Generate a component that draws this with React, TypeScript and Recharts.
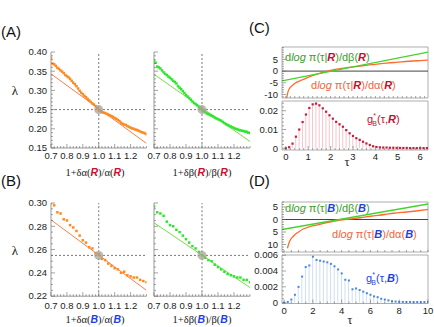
import React from 'react';
import {
  ComposedChart,
  Scatter,
  Line,
  Bar,
  XAxis,
  YAxis,
  ReferenceLine,
  ReferenceDot,
  ReferenceArea
} from 'recharts';

// ---- panels A / B: lambda vs relative change of alpha / beta ----
const SWEEP_FINE = [
  0.70, 0.71, 0.72, 0.73, 0.74, 0.75, 0.76, 0.77, 0.78, 0.79,
  0.80, 0.81, 0.82, 0.83, 0.84, 0.85, 0.86, 0.87, 0.88, 0.89,
  0.90, 0.91, 0.92, 0.93, 0.94, 0.95, 0.96, 0.97, 0.98, 0.99,
  1.00, 1.01, 1.02, 1.03, 1.04, 1.05, 1.06, 1.07, 1.08, 1.09,
  1.10, 1.11, 1.12, 1.13, 1.14, 1.15, 1.16, 1.17, 1.18, 1.19,
  1.20, 1.21, 1.22, 1.23, 1.24, 1.25, 1.26, 1.27, 1.28, 1.29, 1.30
];
const LAMBDA_ALPHA_R = [
  0.384, 0.370, 0.368, 0.364, 0.359, 0.356, 0.352, 0.349, 0.345, 0.340,
  0.337, 0.334, 0.330, 0.325, 0.320, 0.316, 0.311, 0.305, 0.299, 0.294,
  0.290, 0.286, 0.282, 0.278, 0.274, 0.270, 0.266, 0.263, 0.259, 0.254,
  0.250, 0.246, 0.243, 0.242, 0.241, 0.239, 0.237, 0.235, 0.233, 0.231,
  0.228, 0.226, 0.223, 0.220, 0.216, 0.213, 0.211, 0.210, 0.207, 0.205,
  0.203, 0.201, 0.200, 0.198, 0.197, 0.195, 0.193, 0.191, 0.190, 0.188, 0.186
];
const LAMBDA_BETA_R = [
  0.376, 0.372, 0.362, 0.360, 0.357, 0.352, 0.347, 0.343, 0.340, 0.336,
  0.333, 0.329, 0.325, 0.322, 0.318, 0.311, 0.307, 0.303, 0.298, 0.293,
  0.288, 0.284, 0.280, 0.276, 0.271, 0.267, 0.264, 0.261, 0.257, 0.253,
  0.250, 0.246, 0.243, 0.240, 0.238, 0.236, 0.234, 0.232, 0.229, 0.227,
  0.225, 0.223, 0.221, 0.218, 0.215, 0.212, 0.210, 0.208, 0.206, 0.204,
  0.202, 0.200, 0.199, 0.197, 0.196, 0.195, 0.194, 0.193, 0.192, 0.190, 0.189
];
const SWEEP_COARSE = [
  0.70, 0.72, 0.74, 0.76, 0.78, 0.80, 0.82, 0.84, 0.86, 0.88,
  0.90, 0.92, 0.94, 0.96, 0.98, 1.00, 1.02, 1.04, 1.06, 1.08,
  1.10, 1.12, 1.14, 1.16, 1.18, 1.20, 1.22, 1.24, 1.26, 1.28, 1.30
];
const LAMBDA_ALPHA_B = [
  0.300, 0.298, 0.292, 0.291, 0.286, 0.285, 0.281, 0.279, 0.276, 0.272,
  0.268, 0.266, 0.262, 0.261, 0.257, 0.256, 0.252, 0.251, 0.248, 0.246,
  0.244, 0.243, 0.240, 0.241, 0.238, 0.237, 0.236, 0.236, 0.234, 0.233, 0.232
];
const LAMBDA_BETA_B = [
  0.297, 0.292, 0.291, 0.289, 0.284, 0.281, 0.280, 0.277, 0.275, 0.272,
  0.269, 0.266, 0.263, 0.261, 0.258, 0.255, 0.253, 0.251, 0.250, 0.247,
  0.245, 0.243, 0.241, 0.239, 0.238, 0.237, 0.236, 0.236, 0.234, 0.234, 0.232
];
// linear fits through the reference point
const FIT_X = [0.7, 1.3];
const FIT_ALPHA_R = [0.343, 0.162];
const FIT_BETA_R = [0.342, 0.167];
const FIT_ALPHA_B = [0.2855, 0.225];
const FIT_BETA_B = [0.283, 0.2274];
const LAMBDA_REF_R = 0.25;
const LAMBDA_REF_B = 0.255;
const SWEEP_TICKS = [0.7, 0.8, 0.9, 1.0, 1.1, 1.2];

// ---- panels C / D: score functions ----
const BETA_TAU_C = [-0.17, 6.35];
const DLOG_BETA_R = [-4.2, 8.1];
const ALPHA_TAU_C = [0.03, 0.1, 0.2, 0.35, 0.5, 0.7, 0.9, 1.1, 1.35, 1.6, 1.85, 2.2, 2.6, 3.0, 3.5, 4.0, 4.5, 5.0, 5.5, 6.0, 6.35];
const DLOG_ALPHA_R = [-12, -8.8, -7.0, -5.6, -4.7, -3.9, -3.1, -2.3, -1.4, -0.7, 0.0, 0.7, 1.3, 1.8, 2.4, 2.9, 3.4, 3.8, 4.2, 4.5, 4.7];

const BETA_TAU_D = [-0.15, 10];
const DLOG_BETA_B = [-4.0, 6.2];
const ALPHA_TAU_D = [0.23, 0.3, 0.4, 0.6, 0.8, 1.0, 1.3, 1.7, 2.1, 2.5, 3.0, 3.5, 3.9, 4.5, 5.3, 6.0, 7.0, 7.6, 8.5, 9.3, 10];
const DLOG_ALPHA_B = [-11.5, -10.0, -8.5, -6.9, -5.8, -5.0, -3.9, -3.0, -2.4, -1.9, -1.2, -0.6, -0.2, 0.2, 0.7, 1.3, 2.0, 2.5, 3.0, 3.5, 4.0];

// ---- g*_B(tau) ----
const TAU_C = [
  0, 0.15, 0.3, 0.45, 0.6, 0.75, 0.9, 1.05, 1.2, 1.35,
  1.5, 1.65, 1.8, 1.95, 2.1, 2.25, 2.4, 2.55, 2.7, 2.85,
  3.0, 3.15, 3.3, 3.45, 3.6, 3.75, 3.9, 4.05, 4.2, 4.35,
  4.5, 4.65, 4.8, 4.95, 5.1, 5.25, 5.4, 5.55, 5.7, 5.85,
  6.0, 6.15, 6.3
];
const G_R = [
  0.0000, 0.0006, 0.0025, 0.0062, 0.0100, 0.0140, 0.0180, 0.0215, 0.0234, 0.0238,
  0.0229, 0.0213, 0.0195, 0.0176, 0.0158, 0.0141, 0.0128, 0.0115, 0.0097, 0.0080,
  0.0066, 0.0054, 0.0045, 0.0035, 0.0026, 0.0018, 0.0011, 0.0007, 0.0005, 0.0004,
  0.0004, 0.0003, 0.0003, 0.0002, 0.0002, 0.0002, 0.0002, 0.0001, 0.0001, 0.0001,
  0.0001, 0.0001, 0.0001
];
const TAU_D = [
  0, 0.25, 0.5, 0.75, 1.0, 1.25, 1.5, 1.75, 2.0, 2.25,
  2.5, 2.75, 3.0, 3.25, 3.5, 3.75, 4.0, 4.25, 4.5, 4.75,
  5.0, 5.25, 5.5, 5.75, 6.0, 6.25, 6.5, 6.75, 7.0, 7.25,
  7.5, 7.75, 8.0, 8.25, 8.5, 8.75, 9.0, 9.25, 9.5, 9.75, 10
];
const G_B = [
  0, 0.0001, 0.0004, 0.0010, 0.0020, 0.0033, 0.0045, 0.0047, 0.0058, 0.0054,
  0.0053, 0.0052, 0.0051, 0.0049, 0.0046, 0.0042, 0.0037, 0.0029, 0.0028, 0.0017,
  0.0018, 0.0016, 0.0014, 0.0012, 0.0010, 0.0008, 0.0007, 0.0005, 0.0004, 0.0003,
  0.0002, 0.00015, 0.0001, 0.0001, 0.0001, 0.0001, 0.00008, 0.00008, 0.00008, 0.00008, 0.00008
];

const SANS = '"Liberation Sans", Arial, sans-serif';
const SERIF = '"Liberation Serif", "Times New Roman", serif';
const RED = '#c8102e';
const BLUE = '#1f3fe6';
const GREEN_TXT = '#3a9e2a';
const ORANGE_TXT = '#f2643a';

const steps = (a: number, b: number, s: number) => {
  const out: number[] = [];
  for (let v = a; v <= b + s / 1000; v += s) out.push(Math.round(v * 1e6) / 1e6);
  return out;
};

const zip = (xs: number[], ys: number[], kx = 'x', ky = 'y') =>
  xs.map((x, i) => ({ [kx]: x, [ky]: ys[i] }));

// inward Mathematica-style ticks, label only on majors
const makeTick = (side: 'left' | 'bottom', major: number[], fmt?: (v: number) => string, gap = 10) => (p: any) => {
  const v = Number(p.payload.value);
  const isMaj = major.some((m) => Math.abs(m - v) < 1e-9);
  const l = isMaj ? 4 : 2;
  if (side === 'left') {
    const ax = p.x + 3;
    return (
      <g>
        <line x1={ax} x2={ax + l} y1={p.y} y2={p.y} stroke="#666" strokeWidth={0.6} />
        {isMaj && fmt ? (
          <text x={p.x - 1} y={p.y + 3.3} textAnchor="end" fontFamily={SANS} fontSize={9.5} fill="#222">{fmt(v)}</text>
        ) : null}
      </g>
    );
  }
  const ay = p.y - 3;
  return (
    <g>
      <line x1={p.x} x2={p.x} y1={ay} y2={ay - l} stroke="#666" strokeWidth={0.6} />
      {isMaj && fmt ? (
        <text x={p.x} y={ay + gap} textAnchor="middle" fontFamily={SANS} fontSize={9.5} fill="#222">{fmt(v)}</text>
      ) : null}
    </g>
  );
};

const square = (color: string, s: number) => (p: any) =>
  p.cx == null ? <g /> : <rect x={p.cx - s / 2} y={p.cy - s / 2} width={s} height={s} fill={color} />;

type Box = [number, number, number, number];

function SweepPanel(props: {
  box: Box; xs: number[]; ys: number[]; fit: number[]; dotColor: string; fitColor: string;
  yDomain: [number, number]; yMajor: number[]; yStep: number; labels: boolean; refY: number; gap: number;
}) {
  const { box, xs, ys, fit, dotColor, fitColor, yDomain, yMajor, yStep, labels, refY, gap } = props;
  const yw = 30, xh = 16, mt = 8, mr = 6;
  return (
    <div style={{ position: 'absolute', left: box[0] - yw, top: box[1] - mt }}>
      <ComposedChart
        width={yw + box[2] - box[0] + mr}
        height={mt + box[3] - box[1] + xh}
        margin={{ top: mt, right: mr, left: 0, bottom: 0 }}
      >
        <XAxis type="number" dataKey="x" domain={[0.7, 1.3]} ticks={steps(0.7, 1.3, 0.02)} interval={0}
          height={xh} tickSize={0} tickMargin={3} tick={makeTick('bottom', SWEEP_TICKS, (v) => v.toFixed(1), gap)}
          axisLine={{ stroke: '#999' }} allowDataOverflow />
        <YAxis type="number" dataKey="y" domain={yDomain} ticks={steps(yDomain[0], yDomain[1], yStep)} interval={0}
          width={yw} tickSize={0} tickMargin={3} tick={makeTick('left', yMajor, labels ? (v) => v.toFixed(2) : undefined)}
          axisLine={{ stroke: '#999' }} allowDataOverflow />
        <ReferenceLine x={1} stroke="#555" strokeDasharray="2 2" strokeWidth={0.8} />
        <ReferenceLine y={refY} stroke="#555" strokeDasharray="2 2" strokeWidth={0.8} />
        <Line data={zip(FIT_X, fit)} dataKey="y" type="linear" stroke={fitColor} strokeWidth={1} dot={false} isAnimationActive={false} />
        <Scatter data={zip(xs, ys)} dataKey="y" shape={square(dotColor, 2.5)} isAnimationActive={false} />
        <ReferenceDot x={1} y={refY} r={4.5} fill="#a8a290" fillOpacity={0.75} stroke="none" />
      </ComposedChart>
    </div>
  );
}

function ScorePanel(props: {
  box: Box; xDomain: [number, number]; xStep: number; yDomain: [number, number]; yMajor: number[];
  fmt: (v: number) => string; beta: { t: number; v: number }[]; alpha: { t: number; v: number }[];
}) {
  const { box, xDomain, xStep, yDomain, yMajor, fmt, beta, alpha } = props;
  const yw = 30, xh = 1, mt = 6, mr = 6;
  return (
    <div style={{ position: 'absolute', left: box[0] - yw, top: box[1] - mt }}>
      <ComposedChart width={yw + box[2] - box[0] + mr} height={mt + box[3] - box[1] + xh}
        margin={{ top: mt, right: mr, left: 0, bottom: 0 }}>
        <XAxis type="number" dataKey="t" domain={xDomain} ticks={steps(Math.ceil(xDomain[0] / xStep) * xStep, xDomain[1], xStep)}
          interval={0} height={xh} tickSize={0} tickMargin={3} tick={makeTick('bottom', [], undefined)} axisLine={false} allowDataOverflow />
        <YAxis type="number" dataKey="v" domain={yDomain} ticks={steps(Math.ceil(yDomain[0]), yDomain[1], 1)} interval={0}
          width={yw} tickSize={0} tickMargin={3} tick={makeTick('left', yMajor, fmt)} axisLine={false} allowDataOverflow />
        <ReferenceArea x1={xDomain[0]} x2={xDomain[1]} y1={yDomain[0]} y2={yDomain[1]} fill="none" stroke="#999" strokeWidth={0.8} />
        <ReferenceLine y={0} stroke="#444" strokeWidth={1} />
        <Line data={alpha} dataKey="v" type="monotone" stroke="#ff6a30" strokeWidth={1.3} dot={false} isAnimationActive={false} />
        <Line data={beta} dataKey="v" type="linear" stroke="#44d42a" strokeWidth={1.3} dot={false} isAnimationActive={false} />
      </ComposedChart>
    </div>
  );
}

function GPanel(props: {
  box: Box; xDomain: [number, number]; xMajor: number[]; xStep: number; yDomain: [number, number]; yMajor: number[];
  yStep: number; fmt: (v: number) => string; data: { t: number; g: number }[]; stem: string; dot: string; dotSize: number; gap: number;
}) {
  const { box, xDomain, xMajor, xStep, yDomain, yMajor, yStep, fmt, data, stem, dot, dotSize, gap } = props;
  const yw = 30, xh = 16, mt = 6, mr = 8;
  return (
    <div style={{ position: 'absolute', left: box[0] - yw, top: box[1] - mt }}>
      <ComposedChart data={data} width={yw + box[2] - box[0] + mr} height={mt + box[3] - box[1] + xh}
        margin={{ top: mt, right: mr, left: 0, bottom: 0 }}>
        <XAxis type="number" dataKey="t" domain={xDomain} ticks={steps(0, xDomain[1], xStep)} interval={0}
          height={xh} tickSize={0} tickMargin={3} tick={makeTick('bottom', xMajor, (v) => String(v), gap)} axisLine={false} allowDataOverflow />
        <YAxis type="number" domain={yDomain} ticks={steps(0, yDomain[1], yStep)} interval={0}
          width={yw} tickSize={0} tickMargin={3} tick={makeTick('left', yMajor, fmt)} axisLine={false} allowDataOverflow />
        <ReferenceArea x1={xDomain[0]} x2={xDomain[1]} y1={yDomain[0]} y2={yDomain[1]} fill="none" stroke="#999" strokeWidth={0.8} />
        <Bar dataKey="g" barSize={1} fill={stem} isAnimationActive={false} />
        <Scatter dataKey="g" shape={square(dot, dotSize)} isAnimationActive={false} />
      </ComposedChart>
    </div>
  );
}

const Em = ({ t, c }: { t: string; c: string }) => (
  <tspan fontFamily={SANS} fontWeight="bold" fontStyle="italic" fill={c}>{t}</tspan>
);

function Overlay() {
  const panel = { fontFamily: SANS, fontSize: 15, fill: '#111' };
  const title = { fontFamily: SERIF, fontSize: 10.5, fill: '#222', textAnchor: 'middle' as const };
  const note = { fontFamily: SANS, fontSize: 11 };
  return (
    <svg width={434} height={327} style={{ position: 'absolute', left: 0, top: 0, pointerEvents: 'none' }}>
      <text x={1} y={37} {...panel}>(A)</text>
      <text x={1} y={185.5} {...panel}>(B)</text>
      <text x={249} y={33} {...panel}>(C)</text>
      <text x={249} y={186} {...panel}>(D)</text>

      <text x={15} y={95} fontFamily={SERIF} fontSize={13} textAnchor="middle" fill="#222">λ</text>
      <text x={15} y={255} fontFamily={SERIF} fontSize={13} textAnchor="middle" fill="#222">λ</text>

      <text x={95} y={176} {...title}>1+δα(<Em t="R" c={RED} />)/α(<Em t="R" c={RED} />)</text>
      <text x={202} y={176} {...title}>1+δβ(<Em t="R" c={RED} />)/β(<Em t="R" c={RED} />)</text>
      <text x={95} y={322.5} {...title}>1+δα(<Em t="B" c={BLUE} />)/α(<Em t="B" c={BLUE} />)</text>
      <text x={202} y={322.5} {...title}>1+δβ(<Em t="B" c={BLUE} />)/β(<Em t="B" c={BLUE} />)</text>

      <text x={285} y={61} {...note} fill={GREEN_TXT}>d<tspan fontStyle="italic">log</tspan> π(τ|<Em t="R" c={RED} />)/dβ(<Em t="R" c={RED} />)</text>
      <text x={311} y={89} {...note} fill={ORANGE_TXT}>d<tspan fontStyle="italic">log</tspan> π(τ|<Em t="R" c={RED} />)/dα(<Em t="R" c={RED} />)</text>
      <text x={367} y={123} {...note} fill={RED}>g<tspan fontSize={7} dy={-5}>*</tspan><tspan fontSize={7} dx={-3.5} dy={8}>B</tspan><tspan dy={-3}>(τ,</tspan><Em t="R" c={RED} />)</text>
      <text x={347} y={166} fontFamily={SERIF} fontSize={12.5} textAnchor="middle" fill="#222">τ</text>

      <text x={285} y={212} {...note} fill={GREEN_TXT}>d<tspan fontStyle="italic">log</tspan> π(τ|<Em t="B" c={BLUE} />)/dβ(<Em t="B" c={BLUE} />)</text>
      <text x={332} y={238} {...note} fill={ORANGE_TXT}>d<tspan fontStyle="italic">log</tspan> π(τ|<Em t="B" c={BLUE} />)/dα(<Em t="B" c={BLUE} />)</text>
      <text x={366} y={281.5} {...note} fill={BLUE}>g<tspan fontSize={7} dy={-5}>*</tspan><tspan fontSize={7} dx={-3.5} dy={8}>B</tspan><tspan dy={-3}>(τ,</tspan><Em t="B" c={BLUE} />)</text>
      <text x={350} y={323.5} fontFamily={SERIF} fontSize={12} textAnchor="middle" fill="#222">τ</text>
    </svg>
  );
}

export default function App() {
  return (
    <div style={{ position: 'absolute', left: 0, top: 0, width: 434, height: 327, overflow: 'hidden', background: '#fff' }}>
      <SweepPanel box={[51, 52, 146.5, 148]} xs={SWEEP_FINE} ys={LAMBDA_ALPHA_R} fit={FIT_ALPHA_R}
        dotColor="#ff8a1e" fitColor="#f5804a" yDomain={[0.15, 0.4]} yMajor={[0.15, 0.2, 0.25, 0.3, 0.35, 0.4]}
        yStep={0.01} labels refY={LAMBDA_REF_R} gap={11} />
      <SweepPanel box={[154, 52, 250, 148]} xs={SWEEP_FINE} ys={LAMBDA_BETA_R} fit={FIT_BETA_R}
        dotColor="#2fe62f" fitColor="#77dd44" yDomain={[0.15, 0.4]} yMajor={[0.15, 0.2, 0.25, 0.3, 0.35, 0.4]}
        yStep={0.01} labels={false} refY={LAMBDA_REF_R} gap={11} />
      <SweepPanel box={[51, 203.3, 146.5, 296.5]} xs={SWEEP_COARSE} ys={LAMBDA_ALPHA_B} fit={FIT_ALPHA_B}
        dotColor="#ff8a1e" fitColor="#f5804a" yDomain={[0.22, 0.3]} yMajor={[0.22, 0.24, 0.26, 0.28, 0.3]}
        yStep={0.005} labels refY={LAMBDA_REF_B} gap={12.5} />
      <SweepPanel box={[154, 203.3, 250, 296.5]} xs={SWEEP_COARSE} ys={LAMBDA_BETA_B} fit={FIT_BETA_B}
        dotColor="#2fe62f" fitColor="#77dd44" yDomain={[0.22, 0.3]} yMajor={[0.22, 0.24, 0.26, 0.28, 0.3]}
        yStep={0.005} labels={false} refY={LAMBDA_REF_B} gap={12.5} />

      <ScorePanel box={[282.3, 47, 428.3, 98]} xDomain={[-0.17, 6.35]} xStep={0.2} yDomain={[-11.5, 10.3]}
        yMajor={[-10, -5, 0, 5]} fmt={(v) => String(v)}
        beta={zip(BETA_TAU_C, DLOG_BETA_R, 't', 'v') as any} alpha={zip(ALPHA_TAU_C, DLOG_ALPHA_R, 't', 'v') as any} />
      <GPanel box={[282.3, 101, 428.3, 150]} xDomain={[-0.17, 6.35]} xMajor={[0, 1, 2, 3, 4, 5, 6]} xStep={0.2}
        yDomain={[-0.0009, 0.0252]} yMajor={[0, 0.01, 0.02]} yStep={0.002}
        fmt={(v) => (v === 0 ? '0' : v.toFixed(2))} data={zip(TAU_C, G_R, 't', 'g') as any}
        stem="#f6c4cb" dot="#cc1a3a" dotSize={2.2} gap={9.5} />

      <ScorePanel box={[282.3, 202, 428.3, 252]} xDomain={[-0.15, 10]} xStep={0.5} yDomain={[-13, 7]}
        yMajor={[-10, -5, 0, 5]} fmt={(v) => String(Math.abs(v))}
        beta={zip(BETA_TAU_D, DLOG_BETA_B, 't', 'v') as any} alpha={zip(ALPHA_TAU_D, DLOG_ALPHA_B, 't', 'v') as any} />
      <GPanel box={[282.3, 254.5, 428.3, 303]} xDomain={[-0.15, 10]} xMajor={[0, 2, 4, 6, 8, 10]} xStep={0.5}
        yDomain={[-0.0001, 0.00602]} yMajor={[0, 0.002, 0.004, 0.006]} yStep={0.0005}
        fmt={(v) => (v === 0 ? '0' : v.toFixed(3))} data={zip(TAU_D, G_B, 't', 'g') as any}
        stem="#cddff5" dot="#4a86e8" dotSize={2} gap={10.5} />

      <Overlay />
    </div>
  );
}
